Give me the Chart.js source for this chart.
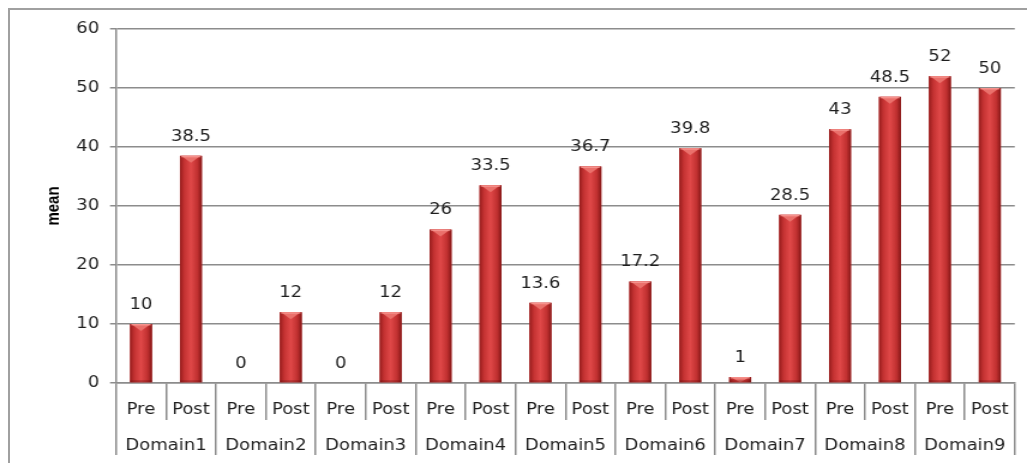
<!DOCTYPE html>
<html>
<head>
<meta charset="utf-8">
<title>Mean scores by domain</title>
<script src="https://cdn.jsdelivr.net/npm/chart.js@4/dist/chart.umd.min.js"></script>
<style>
  html, body { margin: 0; padding: 0; background: #ffffff; overflow: hidden; }
  body { width: 1027px; height: 463px; position: relative; }
  #frame {
    position: absolute; left: 8px; top: 8px; width: 1100px; height: 520px;
    border-left: 2px solid #a0a0a0; border-top: 2px solid #a0a0a0;
    box-sizing: border-box;
  }
  #wrap {
    position: absolute; left: 0; top: 0; width: 856px; height: 463px;
    transform: scaleX(1.19977); transform-origin: 0 0;
  }
  canvas { display: block; }
</style>
</head>
<body>
<div id="frame"></div>
<div id="wrap"><canvas id="chart" width="856" height="463"></canvas></div>
<script>
// Mean score per domain, before and after
const domains = ['Domain1', 'Domain2', 'Domain3', 'Domain4', 'Domain5', 'Domain6', 'Domain7', 'Domain8', 'Domain9'];
const phases = ['Pre', 'Post'];
const preMeans = [10, 0, 0, 26, 13.6, 17.2, 1, 43, 52];
const postMeans = [38.5, 12, 12, 33.5, 36.7, 39.8, 28.5, 48.5, 50];
const yMin = 0;
const yMax = 60;
const yStep = 10;

// One bar per (domain, phase) pair
const barLabels = domains.flatMap(() => phases);
const barValues = domains.flatMap((d, i) => [preMeans[i], postMeans[i]]);

const FONT = '"DejaVu Sans", Verdana, sans-serif';
const GRID = '#8c8c8c';
const TEXT = '#1e1e1e';

// Cylinder-like shading painted over each bar rectangle
const barShading = {
  id: 'barShading',
  afterDatasetsDraw(chart) {
    const ctx = chart.ctx;
    const meta = chart.getDatasetMeta(0);
    ctx.save();
    meta.data.forEach((bar) => {
      const p = bar.getProps(['x', 'y', 'base', 'width'], true);
      const left = p.x - p.width / 2;
      const right = p.x + p.width / 2;
      const top = Math.min(p.y, p.base);
      const bottom = Math.max(p.y, p.base);
      const h = bottom - top;
      if (h <= 0.5) return;
      const g = ctx.createLinearGradient(left, 0, right, 0);
      g.addColorStop(0, '#961c1c');
      g.addColorStop(0.2, '#c43232');
      g.addColorStop(0.5, '#e04848');
      g.addColorStop(0.8, '#c03030');
      g.addColorStop(1, '#851717');
      ctx.fillStyle = g;
      ctx.fillRect(left, top, p.width, h);
      // bevelled top: light wedge pointing down
      const depth = Math.min(7, h);
      ctx.fillStyle = '#ea706b';
      ctx.beginPath();
      ctx.moveTo(left + 1, top);
      ctx.lineTo(right - 1, top);
      ctx.lineTo(p.x, top + depth);
      ctx.closePath();
      ctx.fill();
      ctx.fillStyle = 'rgba(255,175,170,0.55)';
      ctx.fillRect(left + 1, top, p.width - 2, Math.min(1.5, h));
      // slightly darker foot
      if (h > 4) {
        ctx.fillStyle = 'rgba(90,10,10,0.3)';
        ctx.fillRect(left, bottom - 2, p.width, 2);
      }
    });
    ctx.restore();
  }
};

// Value written above each bar
const valueLabels = {
  id: 'valueLabels',
  afterDatasetsDraw(chart) {
    const ctx = chart.ctx;
    const meta = chart.getDatasetMeta(0);
    const values = chart.data.datasets[0].data;
    ctx.save();
    ctx.font = '15px ' + FONT;
    ctx.fillStyle = TEXT;
    ctx.textAlign = 'center';
    ctx.textBaseline = 'middle';
    meta.data.forEach((bar, i) => {
      const p = bar.getProps(['x', 'y'], true);
      ctx.fillText(String(values[i]), p.x, p.y - 19);
    });
    ctx.restore();
  }
};

new Chart(document.getElementById('chart'), {
  type: 'bar',
  data: {
    labels: barLabels,
    datasets: [{
      label: 'mean',
      data: barValues,
      backgroundColor: '#c83434',
      borderWidth: 0,
      barPercentage: 0.44,
      categoryPercentage: 1.0,
      xAxisID: 'x',
      yAxisID: 'y'
    }]
  },
  options: {
    responsive: false,
    animation: false,
    devicePixelRatio: 1,
    layout: { padding: { left: 30, right: 10.2, top: 29, bottom: 8 } },
    plugins: {
      legend: { display: false },
      tooltip: { enabled: false }
    },
    scales: {
      y: {
        min: yMin,
        max: yMax,
        ticks: {
          stepSize: yStep,
          padding: 9,
          color: TEXT,
          font: { family: FONT, size: 15 }
        },
        grid: { color: GRID, lineWidth: 1.5, tickLength: 5, drawTicks: true },
        border: { display: true, color: GRID, width: 1.5 },
        title: {
          display: true,
          text: 'mean',
          color: '#000000',
          font: { family: '"Liberation Sans", Arial, sans-serif', size: 15, weight: 'bold' },
          padding: { top: 6, bottom: 0 }
        },
        afterFit(scale) { scale.width = 66.7; }
      },
      x: {
        type: 'category',
        position: 'bottom',
        weight: 0,
        offset: true,
        grid: {
          offset: true,
          drawOnChartArea: false,
          drawTicks: true,
          tickLength: 37,
          color: GRID,
          lineWidth: 1.5
        },
        border: { display: true, color: GRID, width: 1.5 },
        ticks: {
          autoSkip: false,
          maxRotation: 0,
          minRotation: 0,
          padding: -19,
          color: TEXT,
          font: { family: FONT, size: 15 }
        },
        afterFit(scale) { scale.height = 37; }
      },
      x2: {
        type: 'category',
        labels: domains,
        position: 'bottom',
        weight: 1,
        offset: true,
        grid: {
          offset: true,
          drawOnChartArea: false,
          drawTicks: true,
          tickLength: 35,
          color: GRID,
          lineWidth: 1.5
        },
        border: { display: false },
        ticks: {
          autoSkip: false,
          maxRotation: 0,
          minRotation: 0,
          padding: -18,
          color: TEXT,
          font: { family: FONT, size: 15 }
        },
        afterFit(scale) { scale.height = 35; }
      }
    }
  },
  plugins: [barShading, valueLabels]
});
</script>
</body>
</html>
